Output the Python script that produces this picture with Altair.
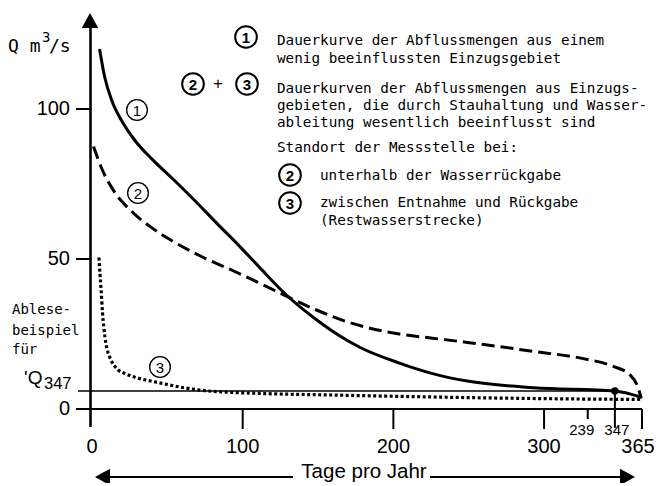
import altair as alt
import pandas as pd

# ---------------- data ----------------
# Curve 1: solid, little influenced catchment
c1_day = [5, 8.5, 13, 20, 28.5, 40, 53, 68, 84, 94, 111, 129, 147, 164, 178, 204, 226, 249, 293, 347, 364]
c1_q = [120, 110.5, 103, 95.8, 89.5, 83.2, 77, 69.6, 61.3, 56.3, 47.3, 38, 30.5, 24.5, 20.5, 15.3, 11.8, 9.3, 7.1, 6, 4]
# Curve 2: dashed, below water return
c2_day = [1, 6.6, 15, 26, 40, 52, 72, 94, 116, 129, 149, 171, 193, 204, 226, 249, 293, 326, 346, 357, 362.5, 364.5]
c2_q = [87.5, 80, 72.3, 66, 60.3, 56.4, 51, 46, 40.8, 37.6, 33, 28.8, 26, 25, 23.6, 22.2, 19.2, 16.8, 14.2, 11.4, 7, 3.5]
# Curve 3: dotted, residual water stretch
c3_day = [4.6, 5.3, 6, 7, 8.6, 10, 12, 17, 22, 28.5, 44, 62, 75, 90, 111, 165, 250, 330, 364]
c3_q = [50.5, 45, 40, 32, 24, 20, 17, 13.2, 11.8, 10.6, 8.8, 7, 6.1, 5.6, 5.2, 4.6, 3.8, 3.3, 3.2]

q347_day = [347]
q347_q = [6]

x_tick_days = [100, 200, 300, 365]
x_label_days = [0, 100, 200, 300, 365]
x_label_text = ["0", "100", "200", "300", "365"]
small_tick_days = [329]
small_label_days = [329, 347]
small_label_text = ["239", "347"]
y_tick_vals = [0, 50, 100]
y_label_text = ["0", "50", "100"]

legend_lines = [
    "Dauerkurve der Abflussmengen aus einem",
    "wenig beeinflussten Einzugsgebiet",
    "Dauerkurven der Abflussmengen aus Einzugs-",
    "gebieten, die durch Stauhaltung und Wasser-",
    "ableitung wesentlich beeinflusst sind",
    "Standort der Messstelle bei:",
    "unterhalb der Wasserrückgabe",
    "zwischen Entnahme und Rückgabe",
    "(Restwasserstrecke)",
]
side_lines = ["Ablese-", "beispiel", "für"]

# ---------------- chart ----------------
W, H = 550, 396
xs = alt.Scale(domain=[0, 365], nice=False, zero=False)
ys = alt.Scale(domain=[0, 132], nice=False, zero=False)
SANS = "Liberation Sans"
MONO = "DejaVu Sans Mono"


def xe(f):
    return alt.X(f"{f}:Q", scale=xs, axis=None)


def ye(f):
    return alt.Y(f"{f}:Q", scale=ys, axis=None)


one = pd.DataFrame({"a": [0]})
layers = []


def curve(days, qs, **kw):
    df = pd.DataFrame({"day": days, "q": qs})
    return alt.Chart(df).mark_line(color="black", interpolate="monotone", **kw).encode(
        x=xe("day"), y=ye("q"))


layers.append(curve(c1_day, c1_q, strokeWidth=3))
layers.append(curve(c2_day, c2_q, strokeWidth=3, strokeDash=[13, 6]))
layers.append(curve(c3_day, c3_q, strokeWidth=3.2, strokeDash=[3, 2.5]))


def vrule(px, py1, py2, w):
    return alt.Chart(one).mark_rule(color="black", strokeWidth=w).encode(
        x=alt.value(px), y=alt.value(py1), y2=alt.value(py2))


def hrule(px1, px2, py, w):
    return alt.Chart(one).mark_rule(color="black", strokeWidth=w).encode(
        x=alt.value(px1), x2=alt.value(px2), y=alt.value(py))


def text(px, py, s, size, font=MONO, align="left", weight="normal"):
    return alt.Chart(one).mark_text(text=s, fontSize=size, font=font, align=align,
                                    baseline="middle", fontWeight=weight, color="black").encode(
        x=alt.value(px), y=alt.value(py))


def arrow(px, py, path, size=225):
    return alt.Chart(one).mark_point(shape=path, size=size, filled=True, color="black",
                                     opacity=1, strokeWidth=0).encode(
        x=alt.value(px), y=alt.value(py))


def ring(px, py, label, bold):
    r = alt.Chart(one).mark_point(shape="circle", size=470 if bold else 430, filled=False,
                                  color="black", opacity=1,
                                  strokeWidth=2 if bold else 1.3).encode(
        x=alt.value(px), y=alt.value(py))
    t = text(px, py + 1, label, 15, font=SANS, align="center",
             weight="bold" if bold else "normal")
    return [r, t]


# axes lines
layers.append(vrule(-1.5, 15, 414, 2.6))               # y axis
layers.append(arrow(-2, 7.5, "M0,-1L1.1,1L-1.1,1Z"))    # y axis arrow
layers.append(hrule(-16, W, 396, 2.2))                  # x axis (Q = 0)

# y ticks + labels
ydf = pd.DataFrame({"v": y_tick_vals, "t": y_label_text})
layers.append(alt.Chart(ydf).mark_rule(color="black", strokeWidth=2).encode(
    y=ye("v"), x=alt.value(-16), x2=alt.value(-2)))
layers.append(alt.Chart(ydf).mark_text(font=SANS, fontSize=20, align="right",
                                       baseline="middle", color="black").encode(
    y=ye("v"), x=alt.value(-22), text="t:N"))

# x ticks + labels
layers.append(alt.Chart(pd.DataFrame({"day": x_tick_days})).mark_rule(
    color="black", strokeWidth=2).encode(x=xe("day"), y=alt.value(396), y2=alt.value(416)))
layers.append(alt.Chart(pd.DataFrame({"day": small_tick_days})).mark_rule(
    color="black", strokeWidth=2).encode(x=xe("day"), y=alt.value(396), y2=alt.value(406)))
for d, t in zip(x_label_days, x_label_text):
    layers.append(alt.Chart(pd.DataFrame({"day": [d], "t": [t]})).mark_text(
        font=SANS, fontSize=20, align="center", baseline="middle", color="black",
        dx=-4 if d == 365 else 0).encode(
        x=xe("day"), y=alt.value(434), text="t:N"))
for d, t, off in zip(small_label_days, small_label_text, [-6, 2]):
    layers.append(alt.Chart(pd.DataFrame({"day": [d], "t": [t]})).mark_text(
        font=SANS, fontSize=15, align="center", baseline="middle", color="black", dx=off).encode(
        x=xe("day"), y=alt.value(417), text="t:N"))

# Q347 reading example (line reaches a little left of the y axis, and below the x axis)
qdf = pd.DataFrame({"day": q347_day, "q": q347_q})
qdf["left"] = -9.3
qdf["below"] = -6.3
layers.append(alt.Chart(qdf).mark_rule(color="black", strokeWidth=1.6).encode(
    x=xe("left"), x2=alt.X2("day"), y=ye("q")))
layers.append(alt.Chart(qdf).mark_rule(color="black", strokeWidth=2).encode(
    x=xe("day"), y=ye("q"), y2=alt.Y2("below")))
layers.append(alt.Chart(qdf).mark_point(shape="circle", size=55, filled=True, color="black",
                                        opacity=1).encode(x=xe("day"), y=ye("q")))

# bottom arrow "Tage pro Jahr"
layers.append(hrule(10, 201, 464, 2))
layers.append(hrule(338, 538, 464, 2))
layers.append(arrow(10.5, 464, "M-1,0L1,-1.1L1,1.1Z"))
layers.append(arrow(535.5, 464, "M1,0L-1,-1.1L-1,1.1Z"))
layers.append(text(272, 459, "Tage pro Jahr", 20.5, font=SANS, align="center"))

# y-axis title
layers.append(text(-84, 34, "Q m", 18))
layers.append(text(-50, 25, "3", 14))
layers.append(text(-43, 34, "/s", 18))

# left annotation
for s, y in zip(side_lines, [297, 318, 337]):
    layers.append(text(-80, y, s, 14))
layers.append(text(-68, 365, "'Q", 19, font=SANS))
layers.append(text(-48, 371, "347", 16.5, font=SANS))

# legend texts
ly = [28, 46, 76, 93, 110, 135, 163, 190, 208]
lx = [185, 185, 185, 185, 185, 185, 228, 228, 228]
for s, x, y in zip(legend_lines, lx, ly):
    layers.append(text(x, y, s, 14.3))

# numbered rings
layers += ring(154, 24, "1", True)
layers += ring(101, 71, "2", True)
layers.append(text(126, 71, "+", 17, font=SANS, align="center"))
layers += ring(155, 71, "3", True)
layers += ring(198, 162, "2", True)
layers += ring(198, 190, "3", True)
layers += ring(45, 97, "1", False)
layers += ring(46, 180, "2", False)
layers += ring(68, 354, "3", False)

chart = alt.layer(*layers).properties(
    width=W, height=H,
    autosize=alt.AutoSizeParams(type="none"),
    padding={"left": 84, "top": 5, "right": 12, "bottom": 74},
    background="white",
).configure_view(stroke=None)

chart.save("out.html", embed_options={"renderer": "svg", "actions": False})
